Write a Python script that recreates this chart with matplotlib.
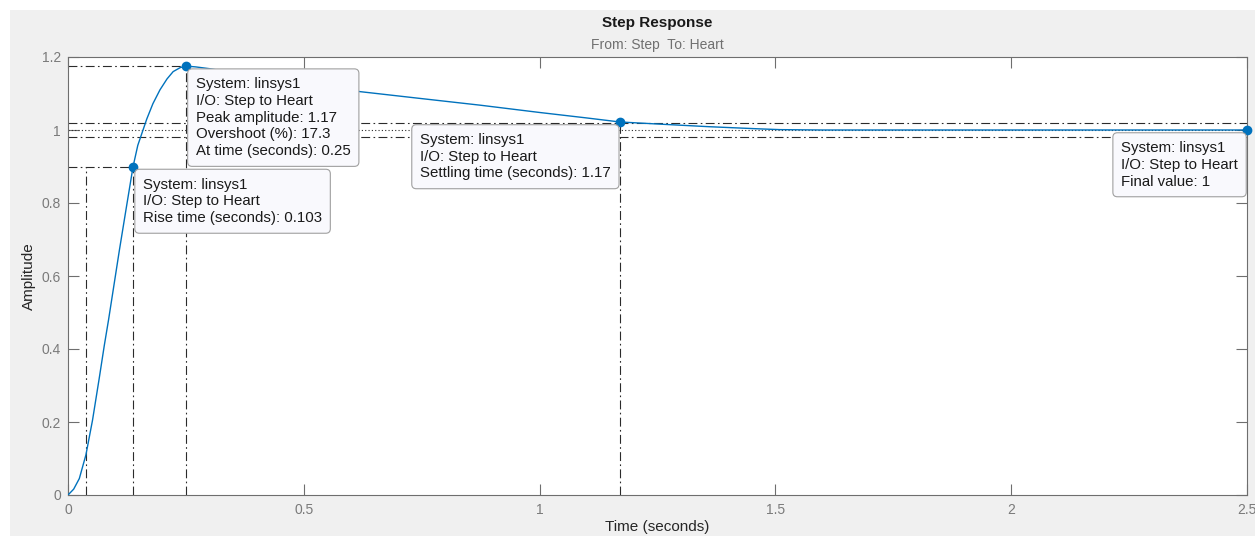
import matplotlib
matplotlib.use("Agg")
import matplotlib.pyplot as plt
from matplotlib.patches import Rectangle

plt.rcParams['font.family'] = ['Liberation Sans', 'DejaVu Sans']

# step response
t = [0, 0.003, 0.012, 0.024, 0.038, 0.052, 0.066, 0.077, 0.086, 0.109,
     0.124, 0.138, 0.148, 0.167, 0.18, 0.195, 0.21, 0.223, 0.238, 0.25,
     0.27, 0.3, 0.35, 0.4, 0.5, 0.62, 0.75, 0.874, 1.0, 1.1, 1.17, 1.256,
     1.36, 1.468, 1.51, 1.6, 1.9, 2.2, 2.5]
amp = [0, 0.004, 0.016, 0.045, 0.11, 0.205, 0.318, 0.41, 0.48, 0.671,
       0.79, 0.9, 0.958, 1.03, 1.072, 1.11, 1.14, 1.16, 1.171, 1.175,
       1.173, 1.168, 1.157, 1.146, 1.126, 1.105, 1.086, 1.068, 1.048, 1.033,
       1.022, 1.016, 1.009, 1.003, 1.001, 1.0, 1.0, 1.0, 1.0]

# characteristics
t10, t90 = 0.038, 0.138
y90 = 0.9
t_peak, y_peak = 0.25, 1.175
t_settle, y_settle = 1.17, 1.022
t_final, y_final = 2.5, 1.0
band_hi, band_lo = 1.02, 0.98

tip_peak = "System: linsys1\nI/O: Step to Heart\nPeak amplitude: 1.17\nOvershoot (%): 17.3\nAt time (seconds): 0.25"
tip_rise = "System: linsys1\nI/O: Step to Heart\nRise time (seconds): 0.103"
tip_settle = "System: linsys1\nI/O: Step to Heart\nSettling time (seconds): 1.17"
tip_final = "System: linsys1\nI/O: Step to Heart\nFinal value: 1"

W, H = 1255, 536
fig = plt.figure(figsize=(W / 100, H / 100), dpi=100, facecolor='white')
fig.add_artist(Rectangle((10 / W, 0), 1, 1 - 10 / H, transform=fig.transFigure,
                         facecolor='#f0f0f0', edgecolor='none', zorder=-10))

ax = fig.add_axes([68 / W, 1 - 495 / H, (1247 - 68) / W, (495 - 57) / H])
ax.set_facecolor('white')

blue = '#0072BD'
ref = '#2b2b2b'
dd = dict(color=ref, lw=0.8, linestyle=(0, (8, 3, 1.5, 3)), zorder=2)

# reference lines
ax.axhline(band_hi, **dd)
ax.axhline(band_lo, **dd)
ax.axhline(y_final, color=ref, lw=0.8, linestyle=(0, (1, 2)), zorder=2)
ax.plot([0, t90], [y90, y90], **dd)
ax.plot([t10, t10], [0, y90], **dd)
ax.plot([t90, t90], [0, y90], **dd)
ax.plot([0, t_peak], [y_peak, y_peak], **dd)
ax.plot([t_peak, t_peak], [0, y_peak], **dd)
ax.plot([t_settle, t_settle], [0, y_settle], **dd)

# response
ax.plot(t, amp, color=blue, lw=1.0, zorder=3)
ax.plot([t90, t_peak, t_settle, t_final], [y90, y_peak, y_settle, y_final],
        'o', color=blue, ms=6, zorder=4, clip_on=False)

box = dict(boxstyle='round,pad=0.55,rounding_size=0.3', facecolor='#f9f9fd',
           edgecolor='#a0a0a0', lw=0.8)

def datatip(x, y, txt, side):
    if side == 'left':
        off, ha = (10, -11), 'left'
    else:
        off, ha = (-9, -11), 'right'
    ax.annotate(txt, xy=(x, y), xytext=off, textcoords='offset pixels',
                ha=ha, va='top', multialignment='left', fontsize=10.8,
                color='#1a1a1a', bbox=box, linespacing=1.25, zorder=10,
                annotation_clip=False)

datatip(t_peak, y_peak, tip_peak, 'left')
datatip(t90, y90, tip_rise, 'left')
datatip(t_settle, y_settle, tip_settle, 'right')
datatip(t_final, y_final, tip_final, 'right')

ax.set_xlim(0, 2.5)
ax.set_ylim(0, 1.2)
ax.set_xticks([0, 0.5, 1, 1.5, 2, 2.5])
ax.set_xticklabels(['0', '0.5', '1', '1.5', '2', '2.5'])
ax.set_yticks([0, 0.2, 0.4, 0.6, 0.8, 1, 1.2])
ax.set_yticklabels(['0', '0.2', '0.4', '0.6', '0.8', '1', '1.2'])
ax.tick_params(direction='in', length=8, width=0.8, colors='#6e6e6e',
               labelcolor='#7a7a7a', labelsize=10, top=True, right=True)
ax.tick_params(axis='x', pad=6)
ax.tick_params(axis='y', pad=5)
for s in ax.spines.values():
    s.set_color('#6e6e6e')
    s.set_linewidth(0.8)

ax.set_xlabel('Time (seconds)', fontsize=11, color='#262626', labelpad=2)
ax.set_ylabel('Amplitude', fontsize=11, color='#262626', labelpad=4)

fig.text(657.5 / W, 1 - 23 / H, 'Step Response', ha='center', va='center',
         fontsize=11, fontweight='bold', color='#1a1a1a')
fig.text(657.5 / W, 1 - 45 / H, 'From: Step  To: Heart', ha='center',
         va='center', fontsize=10, color='#707070')

fig.savefig('out.png', dpi=100, facecolor=fig.get_facecolor())
